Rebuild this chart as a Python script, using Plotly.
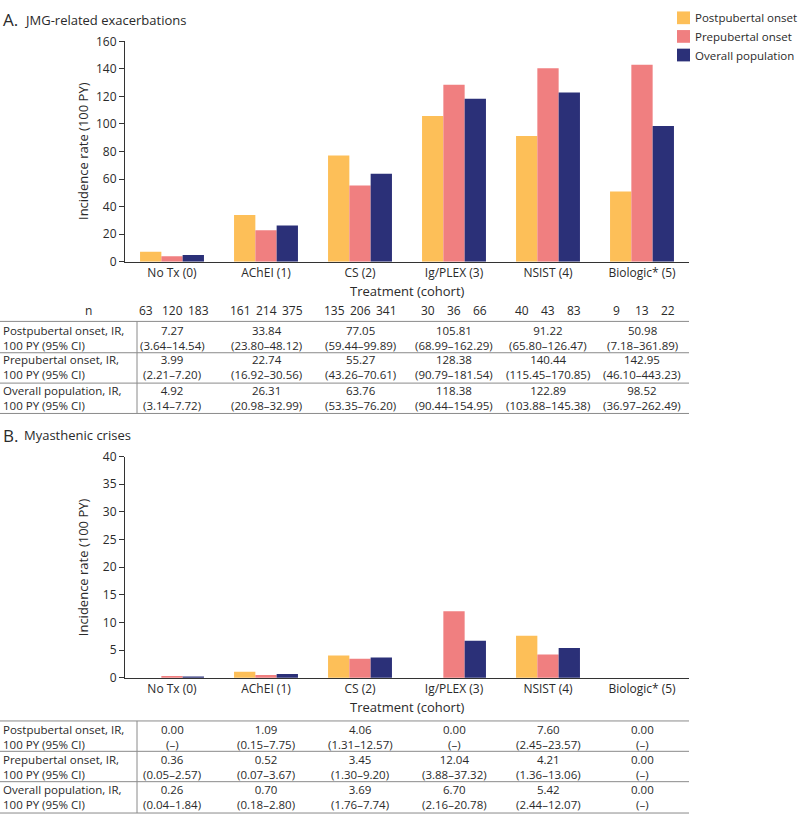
import plotly.graph_objects as go

W, H = 800, 822

categories = ["No Tx (0)", "AChEI (1)", "CS (2)", "Ig/PLEX (3)", "NSIST (4)", "Biologic* (5)"]
series_names = ["Postpubertal onset", "Prepubertal onset", "Overall population"]
colors = ["#FDBF58", "#F07F80", "#2B3078"]

# Panel A: JMG-related exacerbations (IR per 100 PY)
a_post = [7.27, 33.84, 77.05, 105.81, 91.22, 50.98]
a_pre = [3.99, 22.74, 55.27, 128.38, 140.44, 142.95]
a_all = [4.92, 26.31, 63.76, 118.38, 122.89, 98.52]
a_post_ci = ["(3.64–14.54)", "(23.80–48.12)", "(59.44–99.89)", "(68.99–162.29)", "(65.80–126.47)", "(7.18–361.89)"]
a_pre_ci = ["(2.21–7.20)", "(16.92–30.56)", "(43.26–70.61)", "(90.79–181.54)", "(115.45–170.85)", "(46.10–443.23)"]
a_all_ci = ["(3.14–7.72)", "(20.98–32.99)", "(53.35–76.20)", "(90.44–154.95)", "(103.88–145.38)", "(36.97–262.49)"]

n_post = [63, 161, 135, 30, 40, 9]
n_pre = [120, 214, 206, 36, 43, 13]
n_all = [183, 375, 341, 66, 83, 22]

# Panel B: Myasthenic crises (IR per 100 PY)
b_post = [0.00, 1.09, 4.06, 0.00, 7.60, 0.00]
b_pre = [0.36, 0.52, 3.45, 12.04, 4.21, 0.00]
b_all = [0.26, 0.70, 3.69, 6.70, 5.42, 0.00]
b_post_ci = ["(–)", "(0.15–7.75)", "(1.31–12.57)", "(–)", "(2.45–23.57)", "(–)"]
b_pre_ci = ["(0.05–2.57)", "(0.07–3.67)", "(1.30–9.20)", "(3.88–37.32)", "(1.36–13.06)", "(–)"]
b_all_ci = ["(0.04–1.84)", "(0.18–2.80)", "(1.76–7.74)", "(2.16–20.78)", "(2.44–12.07)", "(–)"]

row_labels = ["Postpubertal onset, IR,", "Prepubertal onset, IR,", "Overall population, IR,"]
row_label2 = "100 PY (95% CI)"

FONT = "Open Sans"
TXT = "#2a2a2a"


def py(y):
    return 1 - y / H


def px(x):
    return x / W


fig = go.Figure()
for vals, name, col in zip([a_post, a_pre, a_all], series_names, colors):
    fig.add_trace(go.Bar(x=categories, y=vals, name=name, marker_color=col,
                         marker_line_width=0, xaxis="x", yaxis="y", showlegend=False))
for vals, name, col in zip([b_post, b_pre, b_all], series_names, colors):
    fig.add_trace(go.Bar(x=categories, y=vals, name=name, marker_color=col,
                         marker_line_width=0, xaxis="x2", yaxis="y2", showlegend=False))

xdom = [px(125), px(689)]
axis_common = dict(showline=True, linecolor="#333", linewidth=1, showgrid=False, zeroline=False,
                   tickfont=dict(family=FONT, size=12, color=TXT))
fig.update_layout(
    width=W, height=H, margin=dict(l=0, r=0, t=0, b=0),
    paper_bgcolor="white", plot_bgcolor="white",
    barmode="group", bargap=0.32, bargroupgap=0,
    font=dict(family=FONT, color=TXT),
    xaxis=dict(domain=xdom, anchor="y", type="category", categoryorder="array",
               categoryarray=categories, ticks="", range=[-0.5, 5.5], **axis_common),
    yaxis=dict(domain=[py(258), py(33)], anchor="x", range=[0, 160], dtick=20,
               ticks="outside", ticklen=5, tickcolor="#333", **axis_common),
    xaxis2=dict(domain=xdom, anchor="y2", type="category", categoryorder="array",
                categoryarray=categories, ticks="", range=[-0.5, 5.5], **axis_common),
    yaxis2=dict(domain=[py(683), py(457)], anchor="x2", range=[0, 40], dtick=5,
                ticks="outside", ticklen=5, tickcolor="#333", **axis_common),
)

ann = []
shapes = []


def text(x, y, s, size=12, xanchor="center", xref="paper", xshift=0, angle=0, align="center"):
    ann.append(dict(x=x, y=py(y), xref=xref, yref="paper", text=s, showarrow=False,
                    xanchor=xanchor, yanchor="middle", xshift=xshift, textangle=angle,
                    align=align, borderpad=0,
                    font=dict(family=FONT, size=size, color=TXT)))


# Titles
text(px(2), 11, "A.", size=17, xanchor="left")
text(px(23), 11, "JMG-related exacerbations", size=13, xanchor="left")
text(px(2), 435, "B.", size=17, xanchor="left")
text(px(23), 435, "Myasthenic crises", size=13, xanchor="left")

# Axis titles
text(px(83), 145, "Incidence rate (100 PY)", size=13, angle=-90)
text(px(83), 570, "Incidence rate (100 PY)", size=13, angle=-90)
text(px(407), 288, "Treatment (cohort)", size=13)
text(px(407), 713, "Treatment (cohort)", size=13)

# Legend (custom)
for i, (name, col) in enumerate(zip(series_names, colors)):
    yc = 9 + i * 19
    shapes.append(dict(type="rect", xref="paper", yref="paper", x0=px(677), x1=px(690),
                       y0=py(yc + 6.5), y1=py(yc - 6.5), fillcolor=col, line=dict(width=0)))
    text(px(694), yc, name, size=11.5, xanchor="left")

# n row
text(px(88), 308, "n", size=12)
for i, c in enumerate(categories):
    for nv, sh in zip([n_post[i], n_pre[i], n_all[i]], [-26, 0, 26]):
        text(c, 308, str(nv), size=12, xref="x", xshift=sh)


def table(xref, vals_list, ci_list, row_y, lines_y):
    for r in range(3):
        yc = row_y[r]
        text(px(2), yc, row_labels[r] + "<br>" + row_label2, size=11.5, xanchor="left", align="left")
        for i, c in enumerate(categories):
            text(c, yc, f"{vals_list[r][i]:.2f}<br>{ci_list[r][i]}", size=11.5, xref=xref)
    for ly in lines_y:
        shapes.append(dict(type="line", xref="paper", yref="paper", x0=0, x1=px(689),
                           y0=py(ly), y1=py(ly), line=dict(color="#8a8a8a", width=1)))
    shapes.append(dict(type="line", xref="paper", yref="paper", x0=px(137), x1=px(137),
                       y0=py(lines_y[0]), y1=py(lines_y[-1]), line=dict(color="#8a8a8a", width=1)))


table("x", [a_post, a_pre, a_all], [a_post_ci, a_pre_ci, a_all_ci],
      [335.5, 366, 397], [319, 351, 382, 413])
table("x2", [b_post, b_pre, b_all], [b_post_ci, b_pre_ci, b_all_ci],
      [743, 773.5, 805], [727, 758, 789, 821])

fig.update_layout(annotations=ann, shapes=shapes)
fig.write_html("out.html", config={"displayModeBar": False},
               post_script="document.body.style.margin='0px';document.body.style.padding='0px';")
